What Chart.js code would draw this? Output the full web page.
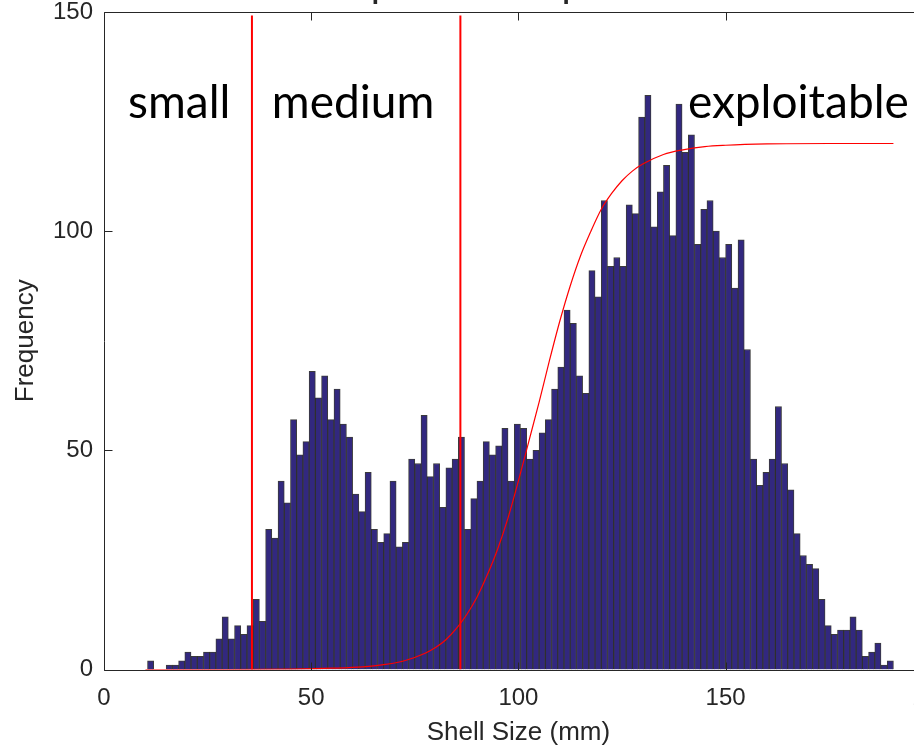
<!DOCTYPE html>
<html>
<head>
<meta charset="utf-8">
<script src="https://cdn.jsdelivr.net/npm/chart.js@4.4.1/dist/chart.umd.min.js"></script>
<style>
  html, body { margin: 0; padding: 0; background: #fff; overflow: hidden; width: 914px; height: 751px; }
  #wrap { position: absolute; left: 0; top: -40px; }
</style>
</head>
<body>
<div id="wrap"><canvas id="chart" width="1036" height="791"></canvas></div>
<script>
// Histogram bins (shell size in mm)
const binStart = 10.5;
const binWidth = 1.5;
const counts = [
  2, 0, 0, 1, 1, 2, 4, 3, 3, 4,
  4, 7, 12, 7, 10, 8, 10, 16, 11, 32,
  30, 43, 38, 57, 49, 52, 68, 62, 67, 57,
  64, 56, 53, 40, 36, 45, 32, 29, 31, 43,
  28, 29, 48, 47, 58, 44, 47, 37, 46, 48,
  53, 32, 39, 43, 52, 49, 51, 55, 43, 56,
  55, 48, 50, 54, 57, 64, 69, 82, 79, 67,
  63, 91, 85, 107, 92, 94, 92, 106, 104, 126,
  131, 101, 109, 115, 99, 129, 118, 122, 97, 105,
  107, 100, 94, 97, 87, 98, 73, 48, 42, 45,
  48, 60, 47, 41, 31, 26, 24, 23, 16, 10,
  8, 9, 9, 12, 9, 3, 4, 6, 1, 2
];

// Red selectivity curve
const curveX = [10, 30, 45, 55, 62.5, 67.5, 72.5, 77.5, 80, 82.5, 85, 87.5, 90, 92.5, 95, 97.5,
  100, 102.5, 105, 107.5, 110, 112.5, 115, 117.5, 120, 122.5, 125, 127.5, 130, 135, 140, 145, 150, 160, 175, 190.5];
const curveY = [0, 0, 0.1, 0.3, 0.6, 1.1, 2.0, 3.7, 5.0, 6.8, 9.3, 12.5, 16.5, 21.6, 27.5, 34.6,
  43, 52, 61, 70.5, 79.5, 87.5, 94.4, 100, 105, 108.6, 111.5, 113.7, 115.3, 117.5, 118.6, 119.3, 119.6, 119.9, 120, 120];

// Class boundaries
const boundaries = [35.7, 86];
const boundaryTop = 149.2;

const xTicks = [0, 50, 100, 150, 200];
const yTicks = [0, 50, 100, 150];

const regionLabels = ['small', 'medium', 'exploitable'];
const regionLabelX = [5.8, 40.5, 140.9];
const regionLabelY = 125.9;

Chart.defaults.font.family = '"Liberation Sans", Arial, Helvetica, sans-serif';
Chart.defaults.color = '#262626';

const barData = counts.map((c, i) => ({ x: binStart + binWidth * (i + 0.5), y: c }));
const curveData = curveX.map((v, i) => ({ x: v, y: curveY[i] }));

const boundaryDatasets = boundaries.map(b => ({
  type: 'line',
  data: [{ x: b, y: 0 }, { x: b, y: boundaryTop }],
  borderColor: '#ff0000',
  borderWidth: 2,
  pointRadius: 0,
  order: 0
}));

// Caja de ejes estilo MATLAB, marcas hacia dentro y textos de las clases
const axesBox = {
  id: 'axesBox',
  afterDatasetsDraw(chart) {
    const { ctx, chartArea: a, scales: { x, y } } = chart;
    ctx.save();
    ctx.strokeStyle = '#262626';
    ctx.lineWidth = 1;
    const L = Math.round(a.left) + 0.5, R = Math.round(a.right) + 0.5;
    const T = Math.round(a.top) + 0.5, B = Math.round(a.bottom) + 0.5;
    ctx.beginPath();
    ctx.moveTo(L, B); ctx.lineTo(L, T); ctx.lineTo(R, T); ctx.lineTo(R, B); ctx.lineTo(L, B);
    xTicks.forEach(v => {
      const px = Math.round(x.getPixelForValue(v)) + 0.5;
      ctx.moveTo(px, B); ctx.lineTo(px, B - 8);
      ctx.moveTo(px, T); ctx.lineTo(px, T + 8);
    });
    yTicks.forEach(v => {
      const py = Math.round(y.getPixelForValue(v)) + 0.5;
      ctx.moveTo(L, py); ctx.lineTo(L + 8, py);
      ctx.moveTo(R, py); ctx.lineTo(R - 8, py);
    });
    ctx.stroke();

    ctx.fillStyle = '#000';
    ctx.font = '46px Lato, "Open Sans", sans-serif';
    ctx.textBaseline = 'alphabetic';
    ctx.textAlign = 'left';
    regionLabels.forEach((t, i) => {
      ctx.fillText(t, x.getPixelForValue(regionLabelX[i]), y.getPixelForValue(regionLabelY));
    });
    ctx.restore();
  }
};

new Chart(document.getElementById('chart').getContext('2d'), {
  type: 'bar',
  data: {
    datasets: [
      {
        type: 'bar',
        data: barData,
        backgroundColor: '#32287f',
        borderColor: 'rgba(25,25,25,0.85)',
        borderWidth: { top: 1, left: 1, right: 1, bottom: 0 },
        barPercentage: 1,
        categoryPercentage: 1,
        order: 3
      },
      {
        type: 'line',
        data: curveData,
        borderColor: '#ff0000',
        borderWidth: 1.2,
        pointRadius: 0,
        cubicInterpolationMode: 'monotone',
        order: 1
      },
      ...boundaryDatasets
    ]
  },
  plugins: [axesBox],
  options: {
    responsive: false,
    animation: false,
    devicePixelRatio: 1,
    layout: { padding: { left: 0, right: 103.2, top: 0, bottom: 0 } },
    plugins: {
      legend: { display: false },
      tooltip: { enabled: false },
      title: {
        display: true,
        text: 'Exploitable Scallops',
        color: '#262626',
        font: { size: 26, weight: 'bold' },
        padding: { top: 16, bottom: 4.8 }
      }
    },
    scales: {
      x: {
        type: 'linear',
        min: 0,
        max: 200,
        offset: false,
        grid: { display: false, drawTicks: false, offset: false },
        border: { display: false },
        afterBuildTicks: s => { s.ticks = xTicks.map(v => ({ value: v })); },
        afterFit: s => { s.height = 81.5; },
        ticks: { font: { size: 24 }, padding: 14, maxRotation: 0, color: '#262626' },
        title: { display: true, text: 'Shell Size (mm)', font: { size: 26 }, color: '#262626', padding: { top: 0, bottom: 3 } }
      },
      y: {
        min: 0,
        max: 150,
        grid: { display: false, drawTicks: false },
        border: { display: false },
        afterBuildTicks: s => { s.ticks = yTicks.map(v => ({ value: v })); },
        afterFit: s => { s.width = 104; },
        ticks: { font: { size: 24 }, padding: 11, color: '#262626' },
        title: { display: true, text: 'Frequency', font: { size: 26 }, color: '#262626', padding: { top: 10, bottom: 0 } }
      }
    }
  }
});
</script>
</body>
</html>
